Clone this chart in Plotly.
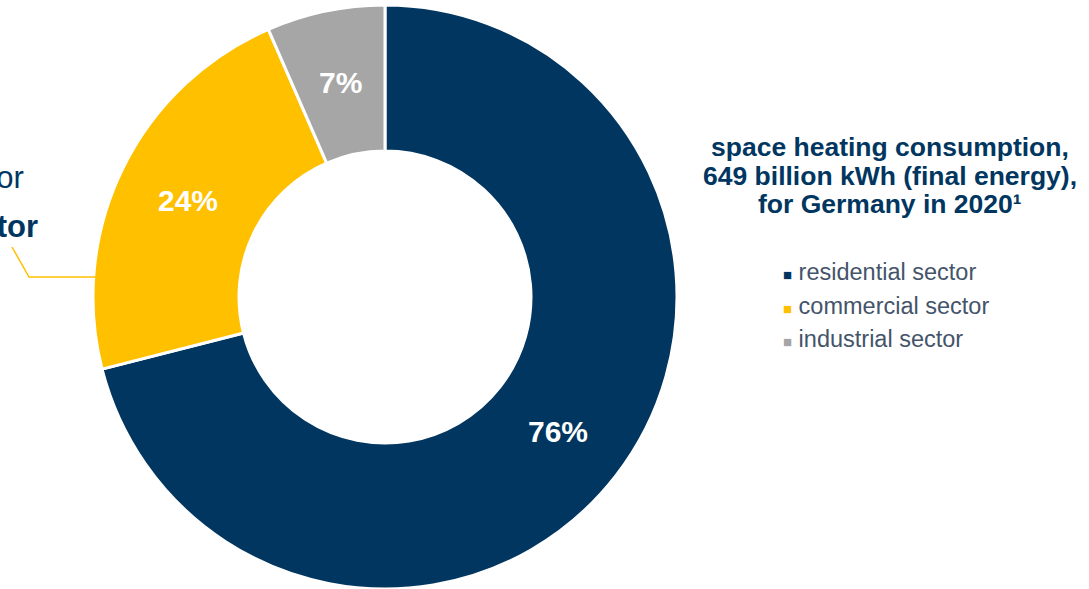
import math
import plotly.graph_objects as go

# Space heating consumption by sector (share labels in %)
sectors = ["residential sector", "commercial sector", "industrial sector"]
shares = [76, 24, 7]
colors = ["#003660", "#FFC000", "#A6A6A6"]

title_lines = [
    "space heating consumption,",
    "649 billion kWh (final energy),",
    "for Germany in 2020¹",
]

W, H = 1089, 589
NAVY = "#003660"
LEGEND_TXT = "#44546A"
FONT = "Liberation Sans, Arial, sans-serif"

# Ring geometry (pixels): domain is square, so radius is half its side
DOM_X = [93, 677]
DOM_Y = [5, 589]
HOLE = 0.5
cx = (DOM_X[0] + DOM_X[1]) / 2
cy = (DOM_Y[0] + DOM_Y[1]) / 2
R = (DOM_X[1] - DOM_X[0]) / 2

fig = go.Figure(
    go.Pie(
        labels=sectors,
        values=shares,
        hole=HOLE,
        sort=False,
        direction="clockwise",
        rotation=0,
        marker=dict(colors=colors, line=dict(color="white", width=3)),
        textinfo="none",
        domain=dict(x=[DOM_X[0] / W, DOM_X[1] / W], y=[1 - DOM_Y[1] / H, 1 - DOM_Y[0] / H]),
        showlegend=False,
        hoverinfo="label+value",
    )
)

annotations = []

# Percentage labels placed mid-ring at each slice's mid-angle
total = sum(shares)
r_lab = R * (1 + HOLE) / 2
acc = 0.0
for v in shares:
    mid = (acc + v / 2) / total * 2 * math.pi
    acc += v
    px = cx + r_lab * math.sin(mid)
    py = cy - r_lab * math.cos(mid)
    annotations.append(dict(
        x=px / W, y=1 - py / H, xref="paper", yref="paper",
        xanchor="center", yanchor="middle", showarrow=False,
        text=f"<b>{v}%</b>",
        font=dict(family=FONT, size=30, color="white"),
    ))

# Heading to the right of the ring
for i, line in enumerate(title_lines):
    annotations.append(dict(
        x=890 / W, y=1 - (147 + i * 28.5) / H, xref="paper", yref="paper",
        xanchor="center", yanchor="middle", showarrow=False,
        text=f"<b>{line}</b>",
        font=dict(family=FONT, size=26.5, color=NAVY),
    ))

# Sector key
for i, (name, col) in enumerate(zip(sectors, colors)):
    annotations.append(dict(
        x=781 / W, y=1 - (272 + i * 33.5) / H, xref="paper", yref="paper",
        xanchor="left", yanchor="middle", showarrow=False,
        text=f"<span style='color:{col};font-size:15px'>■</span> {name}",
        font=dict(family=FONT, size=23.5, color=LEGEND_TXT),
    ))

# Callout on the left edge pointing to the commercial slice
annotations.append(dict(
    x=26 / W, y=1 - 178 / H, xref="paper", yref="paper",
    xanchor="right", yanchor="middle", showarrow=False,
    text="heating demand of the tertiary sector",
    font=dict(family=FONT, size=31, color=NAVY),
))
annotations.append(dict(
    x=40 / W, y=1 - 227 / H, xref="paper", yref="paper",
    xanchor="right", yanchor="middle", showarrow=False,
    text="<b>commercial sector</b>",
    font=dict(family=FONT, size=31, color=NAVY),
))

shapes = [dict(
    type="path", xref="paper", yref="paper",
    path=f"M {12 / W} {1 - 247 / H} L {29 / W} {1 - 277 / H} L {96 / W} {1 - 277 / H}",
    line=dict(color="#FFC000", width=1.5),
)]

fig.update_layout(
    width=W, height=H,
    margin=dict(l=0, r=0, t=0, b=0),
    paper_bgcolor="white", plot_bgcolor="white",
    annotations=annotations,
    shapes=shapes,
    font=dict(family=FONT),
)

fig.write_html("out.html")
